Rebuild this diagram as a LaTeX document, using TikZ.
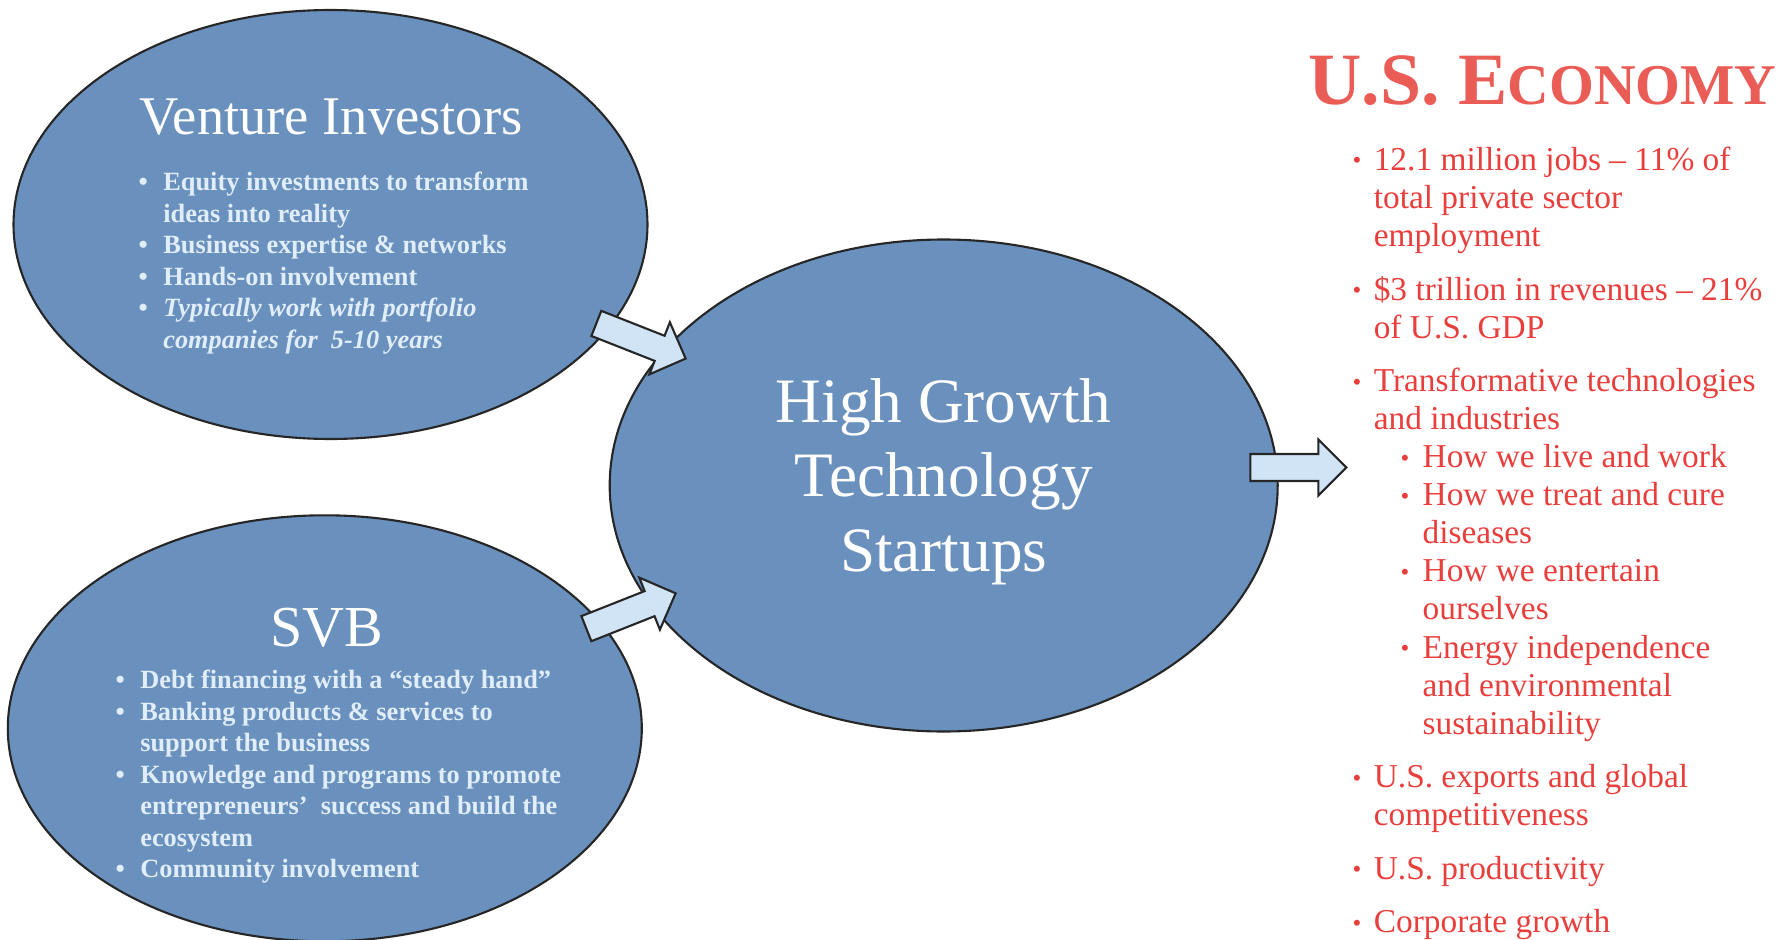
\documentclass[tikz,border=0pt]{standalone}
\usepackage{fontspec}
\setmainfont{Liberation Serif}
\usetikzlibrary{shapes.geometric}

\definecolor{blobblue}{RGB}{106,144,189}
\definecolor{arrowblue}{RGB}{208,228,246}
\definecolor{paleblue}{RGB}{224,237,250}
\definecolor{econred}{RGB}{232,62,60}
\definecolor{titlered}{RGB}{234,92,86}

\tikzset{
  blob/.style={ellipse, draw=black!85, line width=0.6pt, fill=blobblue, inner sep=0pt},
  flowarrow/.style={draw=black!85, line width=0.6pt, fill=arrowblue, line join=miter},
  blobtitle/.style={text=white, inner sep=0pt, anchor=base},
  bloblist/.style={text=paleblue, inner sep=0pt, anchor=north west, align=left,
    font=\bfseries\fontsize{7.5}{8.98}\selectfont},
  econlist/.style={text=econred, inner sep=0pt, anchor=north west, align=left,
    font=\fontsize{9.5}{10.83}\selectfont},
  pics/blockarrow/.style={code={
    \draw[flowarrow] (-48,-13.5) -- (20,-13.5) -- (20,-28) -- (48,0)
      -- (20,28) -- (20,13.5) -- (-48,13.5) -- cycle;}},
}

% bullets and hanging indents
\newcommand{\wb}{\makebox[7pt][l]{\textbullet}}
\newcommand{\wi}{\hspace*{7pt}}
\newcommand{\rb}{\makebox[6pt][l]{\raisebox{0.1ex}{\scalebox{0.75}{\textbullet}}}}
\newcommand{\ri}{\hspace*{6pt}}
\newcommand{\rsb}{\hspace*{13.6pt}\makebox[6.3pt][l]{\raisebox{0.1ex}{\scalebox{0.75}{\textbullet}}}}
\newcommand{\rsi}{\hspace*{19.9pt}}

\begin{document}
\begin{tikzpicture}[x=0.1mm, y=-0.1mm]
  \useasboundingbox (0,0) rectangle (1787,940);

  % the three ellipses
  \node[blob, minimum width=63.4mm, minimum height=42.9mm] (vi) at (330.5,224.5) {};
  \node[blob, minimum width=63.4mm, minimum height=42.6mm] (svb) at (324.8,728.3) {};
  \node[blob, minimum width=66.8mm, minimum height=49.2mm] (hg) at (943.7,485.5) {};

  % venture investors
  \node[blobtitle, font=\fontsize{15.5}{15.5}\selectfont] (vititle) at (331,134) {Venture Investors};
  \node[bloblist] (vilist) at (138,167.8) {%
    \strut\wb Equity investments to transform\\
    \wi ideas into reality\\
    \wb Business expertise \& networks\\
    \wb Hands-on involvement\\
    \wb\textit{Typically work with portfolio}\\
    \wi\textit{companies for\ \ 5-10 years}};

  % svb
  \node[blobtitle, font=\fontsize{16.5}{16.5}\selectfont] (svbtitle) at (327,646) {SVB};
  \node[bloblist] (svblist) at (115,665.8) {%
    \strut\wb Debt financing with a “steady hand”\\
    \wb Banking products \& services to\\
    \wi support the business\\
    \wb Knowledge and programs to promote\\
    \wi entrepreneurs’\ \ success and build the\\
    \wi ecosystem\\
    \wb Community involvement};

  % startups
  \node[text=white, inner sep=0pt, anchor=north, align=center,
    font=\fontsize{18}{21.3}\selectfont] (hgtitle) at (943.7,369)
    {\strut High Growth\\Technology\\Startups};

  % block arrows
  \pic[rotate=-21.5] at (641,341) {blockarrow};
  \pic[rotate=21.6] at (631,611) {blockarrow};
  \pic at (1298.3,467.5) {blockarrow};

  % u.s. economy
  \node[anchor=base west, inner sep=0pt, text=titlered,
    font=\bfseries\fontsize{21}{21}\selectfont] (econtitle) at (1308,105)
    {U.S. E{\fontsize{16.4}{16.4}\selectfont CONOMY}};
  \node[econlist] (econlist) at (1352,143) {%
    \strut\rb 12.1 million jobs -- 11\% of\\
    \ri total private sector\\
    \ri employment\\[4.4pt]
    \rb \$3 trillion in revenues -- 21\%\\
    \ri of U.S. GDP\\[4.4pt]
    \rb Transformative technologies\\
    \ri and industries\\
    \rsb How we live and work\\
    \rsb How we treat and cure\\
    \rsi diseases\\
    \rsb How we entertain\\
    \rsi ourselves\\
    \rsb Energy independence\\
    \rsi and environmental\\
    \rsi sustainability\\[4.4pt]
    \rb U.S. exports and global\\
    \ri competitiveness\\[4.4pt]
    \rb U.S. productivity\\[4.4pt]
    \rb Corporate growth};
\end{tikzpicture}
\end{document}
